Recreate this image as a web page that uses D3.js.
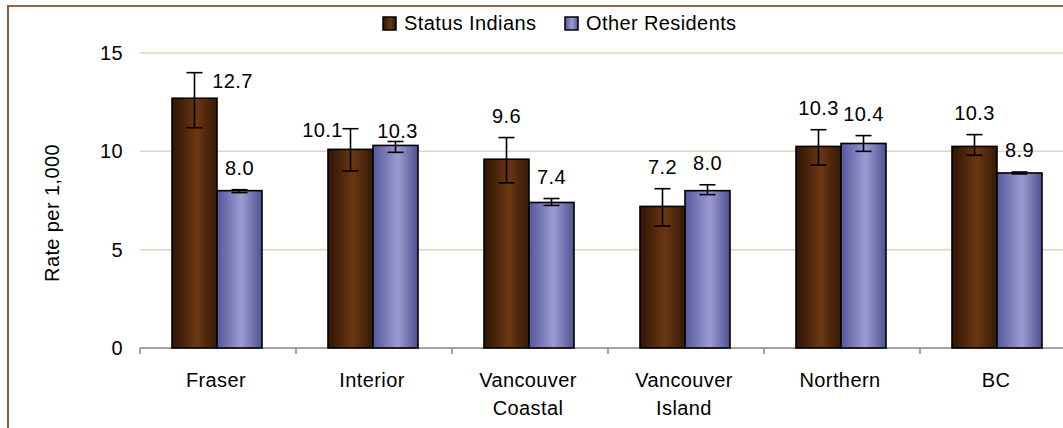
<!DOCTYPE html>
<html>
<head>
<meta charset="utf-8">
<script src="https://cdn.jsdelivr.net/npm/d3@7"></script>
<style>
html,body{margin:0;padding:0;background:#fff;}
svg{display:block;font-family:"Liberation Sans",Arial,sans-serif;}
svg text{letter-spacing:0.4px;}
</style>
</head>
<body>
<svg id="chart" width="1063" height="428"></svg>
<script>
const categories = [["Fraser"],["Interior"],["Vancouver","Coastal"],["Vancouver","Island"],["Northern"],["BC"]];
const seriesNames = ["Status Indians","Other Residents"];
const statusValues = [12.7, 10.1, 9.6, 7.2, 10.25, 10.25];
const statusLow    = [11.2, 9.0, 8.4, 6.2, 9.3, 9.8];
const statusHigh   = [14.0, 11.15, 10.7, 8.1, 11.1, 10.85];
const otherValues  = [8.0, 10.3, 7.4, 8.0, 10.4, 8.9];
const otherLow     = [7.9, 9.95, 7.25, 7.8, 10.0, 8.85];
const otherHigh    = [8.05, 10.5, 7.6, 8.3, 10.8, 8.95];
const yTicks = [0, 5, 10, 15];
const yTitle = "Rate per 1,000";

const svg = d3.select("#chart");
const W = 1063, H = 428;
const catKeys = categories.map(c => c.join(" "));

const x = d3.scaleBand().domain(catKeys).range([140, 1076]).padding(0);
const xs = d3.scaleBand().domain(seriesNames).range([32, 122]).padding(0);
const y = d3.scaleLinear().domain([0, 15]).range([348, 53]);

const defs = svg.append("defs");
function grad(id, dark, light, dark2) {
  const g = defs.append("linearGradient").attr("id", id).attr("x1", "0%").attr("x2", "100%").attr("y1", "0%").attr("y2", "0%");
  g.append("stop").attr("offset", "0%").attr("stop-color", dark);
  g.append("stop").attr("offset", "55%").attr("stop-color", light);
  g.append("stop").attr("offset", "100%").attr("stop-color", dark2);
}
grad("gBrown", "#2c1504", "#6c3612", "#331906");
grad("gBlue", "#55589a", "#9c9bd3", "#4f5192");
const fills = {"Status Indians": "url(#gBrown)", "Other Residents": "url(#gBlue)"};

// frame
svg.append("line").attr("x1", 7).attr("x2", W).attr("y1", 6).attr("y2", 6).attr("stroke", "#8b6a48").attr("stroke-width", 2);
svg.append("line").attr("x1", 8).attr("x2", 8).attr("y1", 5).attr("y2", H).attr("stroke", "#7f5f40").attr("stroke-width", 2);

// gridlines
svg.append("g").selectAll("line").data(yTicks.filter(d => d > 0)).join("line")
  .attr("x1", 140).attr("x2", W).attr("y1", d => y(d)).attr("y2", d => y(d))
  .attr("stroke", "#e2d6b4").attr("stroke-width", 1.5);

// y axis labels
const yAxis = d3.axisLeft(y).tickValues(yTicks).tickSize(0).tickPadding(0).tickFormat(d3.format("d"));
const yg = svg.append("g").attr("transform", "translate(123,0)").call(yAxis);
yg.select(".domain").remove();
yg.selectAll("text").attr("font-size", 20).attr("fill", "#000").attr("font-family", "Liberation Sans, Arial, sans-serif");

svg.append("text").attr("transform", "translate(59,213) rotate(-90)")
  .attr("text-anchor", "middle").attr("font-size", 20).attr("fill", "#000").text(yTitle);

// x axis
const xAxisLine = svg.append("g");
xAxisLine.append("line").attr("x1", 140).attr("x2", W).attr("y1", 348).attr("y2", 348).attr("stroke", "#858585").attr("stroke-width", 1.5);
const boundaries = catKeys.map(k => x(k));
xAxisLine.selectAll("line.tk").data(boundaries).join("line").attr("class", "tk")
  .attr("x1", d => d).attr("x2", d => d).attr("y1", 348).attr("y2", 354).attr("stroke", "#858585").attr("stroke-width", 1.5);

const catText = svg.append("g").selectAll("text").data(categories).join("text")
  .attr("text-anchor", "middle").attr("font-size", 20).attr("fill", "#000")
  .attr("x", (d, i) => x(catKeys[i]) + x.bandwidth() / 2 - 2);
catText.selectAll("tspan").data(d => d).join("tspan")
  .attr("x", function() { return d3.select(this.parentNode).attr("x"); })
  .attr("y", (d, j) => 387 + j * 28).text(d => d);

// bars
const rows = [];
catKeys.forEach((k, i) => {
  rows.push({cat: k, i, s: seriesNames[0], v: statusValues[i], lo: statusLow[i], hi: statusHigh[i]});
  rows.push({cat: k, i, s: seriesNames[1], v: otherValues[i], lo: otherLow[i], hi: otherHigh[i]});
});
svg.append("g").selectAll("rect").data(rows).join("rect")
  .attr("x", d => x(d.cat) + xs(d.s))
  .attr("y", d => y(d.v))
  .attr("width", xs.bandwidth())
  .attr("height", d => y(0) - y(d.v))
  .attr("fill", d => fills[d.s])
  .attr("stroke", "#000").attr("stroke-width", 1.6);

// error bars
const eb = svg.append("g").attr("stroke", "#000").attr("stroke-width", 1.6);
rows.forEach(d => {
  const cx = x(d.cat) + xs(d.s) + xs.bandwidth() / 2;
  eb.append("line").attr("x1", cx).attr("x2", cx).attr("y1", y(d.hi)).attr("y2", y(d.lo));
  eb.append("line").attr("x1", cx - 8).attr("x2", cx + 8).attr("y1", y(d.hi)).attr("y2", y(d.hi));
  eb.append("line").attr("x1", cx - 8).attr("x2", cx + 8).attr("y1", y(d.lo)).attr("y2", y(d.lo));
});

// value labels
const fmt = d3.format(".1f");
function labelPos(d) {
  const cx = x(d.cat) + xs(d.s) + xs.bandwidth() / 2;
  const top = y(d.hi);
  if (d.i === 0 && d.s === seriesNames[0]) return [cx + 38, y(d.v) - 10];
  if (d.i === 1 && d.s === seriesNames[0]) return [cx - 28, top + 8];
  if (d.i === 1) return [cx + 2, top - 4];
  return [cx, top - 15];
}
svg.append("g").selectAll("text").data(rows).join("text")
  .attr("text-anchor", "middle").attr("font-size", 20).attr("fill", "#000")
  .attr("x", d => labelPos(d)[0]).attr("y", d => labelPos(d)[1])
  .text(d => fmt(d.v));

// legend
const lg = svg.append("g");
const legendX = [383, 565];
seriesNames.forEach((s, i) => {
  lg.append("rect").attr("x", legendX[i]).attr("y", 17).attr("width", 13).attr("height", 13)
    .attr("fill", fills[s]).attr("stroke", "#000").attr("stroke-width", 1.5);
  lg.append("text").attr("x", legendX[i] + 21).attr("y", 30).attr("font-size", 20).attr("fill", "#000").text(s);
});
</script>
</body>
</html>
